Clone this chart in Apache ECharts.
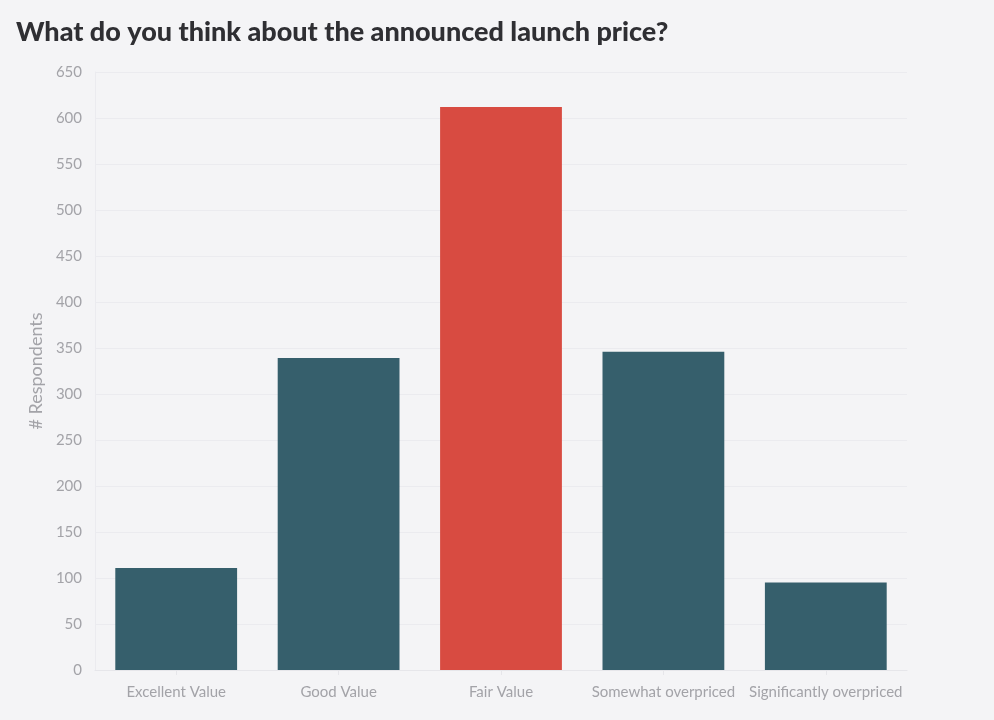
<!DOCTYPE html>
<html><head><meta charset="utf-8">
<script src="https://cdn.jsdelivr.net/npm/echarts@6/dist/echarts.min.js"></script>
<style>html,body{margin:0;padding:0;background:#f4f4f6;}#c{width:994px;height:720px;}</style>
</head><body><div id="c"></div>
<script>
const categories = ["Excellent Value", "Good Value", "Fair Value", "Somewhat overpriced", "Significantly overpriced"];
const respondents = [111, 339, 612, 346, 95];
const highlightIndex = 2;
const titleText = "What do you think about the announced launch price?";
const yAxisName = "# Respondents";

const chart = echarts.init(document.getElementById('c'));
chart.setOption({
  backgroundColor: '#f4f4f6',
  animation: false,
  title: {
    text: titleText, left: 11, top: 14,
    textStyle: {fontFamily: 'Lato', fontWeight: 900, fontSize: 27, color: '#2f2f33'}
  },
  grid: {left: 95, right: 87, top: 72, bottom: 50},
  xAxis: {
    type: 'category', data: categories,
    axisLine: {show: true, lineStyle: {color: '#e6e6ea'}},
    axisTick: {show: true, alignWithLabel: true, length: 5, lineStyle: {color: '#e6e6ea'}},
    axisLabel: {color: '#a3a3a8', fontSize: 15, fontFamily: 'Lato', margin: 15, interval: 0}
  },
  yAxis: {
    type: 'value', min: 0, max: 650, interval: 50,
    name: yAxisName, nameLocation: 'middle', nameGap: 50,
    nameTextStyle: {color: '#a3a3a8', fontSize: 18, fontFamily: 'Lato'},
    axisLine: {show: true, lineStyle: {color: '#ebebef'}},
    axisTick: {show: false},
    axisLabel: {color: '#a3a3a8', fontSize: 15, fontFamily: 'Lato', margin: 13},
    splitLine: {lineStyle: {color: '#ebebef'}}
  },
  series: [{
    type: 'bar', barCategoryGap: '25%',
    data: respondents.map((v, i) => ({value: v, itemStyle: {color: i === highlightIndex ? '#d84b41' : '#365f6c'}}))
  }]
});
</script></body></html>
